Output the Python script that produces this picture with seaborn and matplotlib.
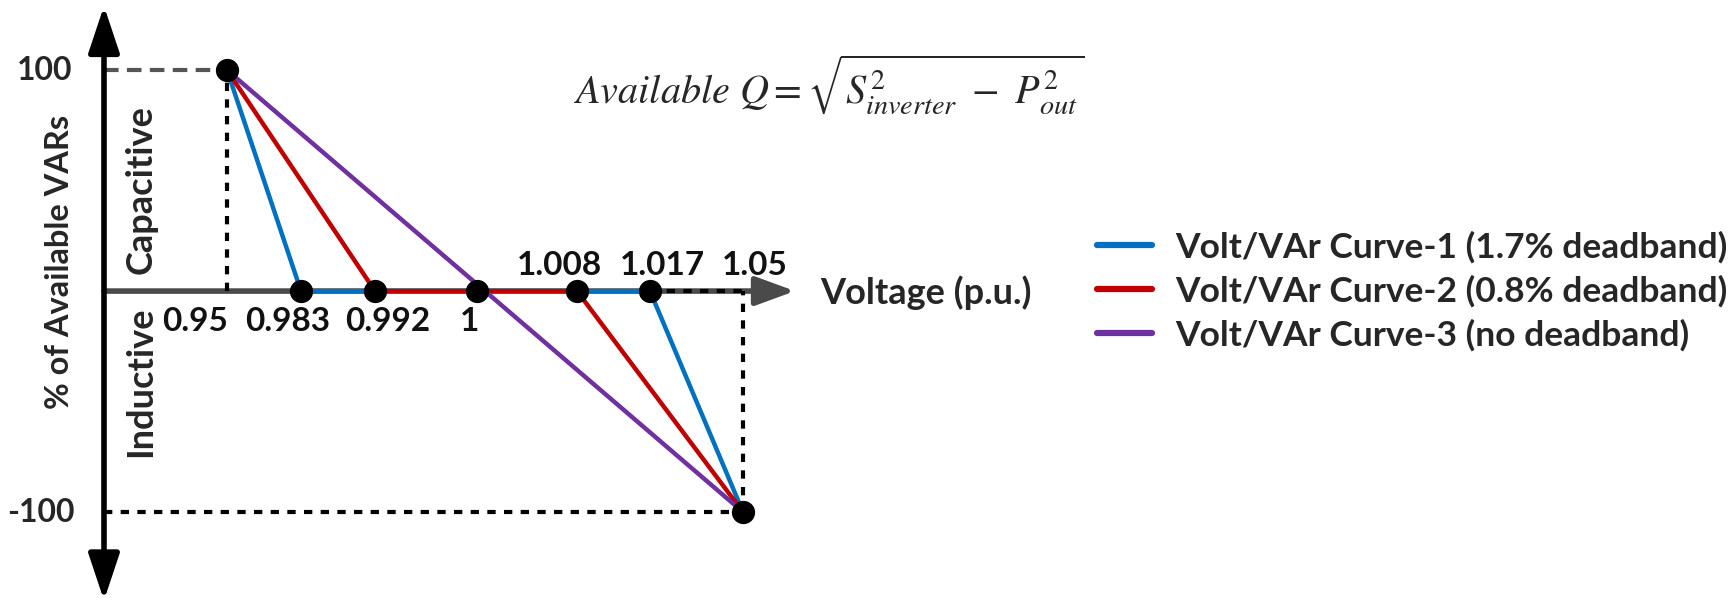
import numpy as np
import pandas as pd
import matplotlib
matplotlib.use('Agg')
import matplotlib.pyplot as plt
import seaborn as sns

# ---- data ----
volt_ticks = [0.95, 0.983, 0.992, 1.0, 1.008, 1.017, 1.05]
curve_names = ['Volt/VAr Curve-1 (1.7% deadband)',
               'Volt/VAr Curve-2 (0.8% deadband)',
               'Volt/VAr Curve-3 (no deadband)']
curve1_v = [0.95, 0.983, 1.017, 1.05]
curve1_q = [100, 0, 0, -100]
curve2_v = [0.95, 0.992, 1.008, 1.05]
curve2_q = [100, 0, 0, -100]
curve3_v = [0.95, 1.05]
curve3_q = [100, -100]
point_v = [0.95, 0.983, 0.992, 1.0, 1.008, 1.017, 1.05]
point_q = [100, 0, 0, 0, 0, 0, -100]
colors = ['#0070C0', '#C00000', '#7030A0']

# ---- schematic (non-linear) voltage axis: pixel position of each tick ----
W, H = 1733, 604
tick_px = np.array([227, 301, 375, 477, 577, 650, 743], dtype=float)
vt = np.array(volt_ticks)


def fwd(v):
    v = np.asarray(v, dtype=float)
    out = np.interp(v, vt, tick_px)
    lo_s = (tick_px[1] - tick_px[0]) / (vt[1] - vt[0])
    hi_s = (tick_px[-1] - tick_px[-2]) / (vt[-1] - vt[-2])
    out = np.where(v < vt[0], tick_px[0] + (v - vt[0]) * lo_s, out)
    out = np.where(v > vt[-1], tick_px[-1] + (v - vt[-1]) * hi_s, out)
    return out


def inv(p):
    p = np.asarray(p, dtype=float)
    out = np.interp(p, tick_px, vt)
    lo_s = (vt[1] - vt[0]) / (tick_px[1] - tick_px[0])
    hi_s = (vt[-1] - vt[-2]) / (tick_px[-1] - tick_px[-2])
    out = np.where(p < tick_px[0], vt[0] + (p - tick_px[0]) * lo_s, out)
    out = np.where(p > tick_px[-1], vt[-1] + (p - tick_px[-1]) * hi_s, out)
    return out


df = pd.concat([
    pd.DataFrame({'v': curve1_v, 'q': curve1_q, 'curve': curve_names[0]}),
    pd.DataFrame({'v': curve2_v, 'q': curve2_q, 'curve': curve_names[1]}),
    pd.DataFrame({'v': curve3_v, 'q': curve3_q, 'curve': curve_names[2]}),
], ignore_index=True)
pts = pd.DataFrame({'v': point_v, 'q': point_q})

sns.set_style('white')
plt.rcParams['font.family'] = ['Lato', 'DejaVu Sans']
plt.rcParams['mathtext.fontset'] = 'stix'

fig = plt.figure(figsize=(W / 100, H / 100), dpi=100)
ax = fig.add_axes([0, 0, 1, 1])
ax.set_xscale('function', functions=(fwd, inv))

yaxis_v = float(inv(104))
xtip_v = float(inv(795))

# axes arrows
ax.annotate('', xy=(xtip_v, 0), xytext=(yaxis_v, 0),
            arrowprops=dict(arrowstyle='-|>,head_length=0.6,head_width=0.22',
                            mutation_scale=40, color='#4a4a4a', lw=4,
                            shrinkA=0, shrinkB=0), zorder=1)
ax.annotate('', xy=(yaxis_v, 129), xytext=(yaxis_v, -140),
            arrowprops=dict(arrowstyle='<|-|>,head_length=0.75,head_width=0.25',
                            mutation_scale=38, color='black', lw=4,
                            shrinkA=0, shrinkB=0), zorder=5)

# guide lines
ax.hlines(point_q[0], yaxis_v, point_v[0], colors='#555555', lw=3,
          linestyles=(0, (3.5, 2)), zorder=2)
ax.vlines(point_v[0], 0, point_q[0], colors='black', lw=3,
          linestyles=(0, (2, 2)), zorder=2)
ax.hlines(point_q[-1], yaxis_v, point_v[-1], colors='black', lw=3,
          linestyles=(0, (2, 2)), zorder=2)
ax.vlines(point_v[-1], point_q[-1], 0, colors='black', lw=3,
          linestyles=(0, (2, 2)), zorder=2)
ax.hlines(0, volt_ticks[5], volt_ticks[6], colors='black', lw=3,
          linestyles=(0, (2, 2)), zorder=2)

sns.lineplot(data=df, x='v', y='q', hue='curve', hue_order=curve_names,
             palette=colors, sort=False, estimator=None, lw=3.2, ax=ax,
             zorder=3)
sns.scatterplot(data=pts, x='v', y='q', color='black', s=280,
                edgecolor='black', linewidth=0, ax=ax, zorder=4, legend=False)

ax.set_xlim(float(inv(0)), float(inv(W)))
ax.set_ylim(-141.6, 131.7)
ax.set_axis_off()

# tick labels (schematic placement)
lab_kw = dict(textcoords='offset pixels', fontsize=24, fontweight='bold',
              ha='center', va='center', color='#111111')
below = [(0.95, '0.95', -32), (0.983, '0.983', -13), (0.992, '0.992', 13), (1.0, '1', -7)]
above = [(1.008, '1.008', -18), (1.017, '1.017', 12), (1.05, '1.05', 12)]
for v, s, dx in below:
    ax.annotate(s, (v, 0), xytext=(dx, -30), **lab_kw)
for v, s, dx in above:
    ax.annotate(s, (v, 0), xytext=(dx, 26), **lab_kw)
ax.annotate('100', (yaxis_v, 100), xytext=(-32, 0), textcoords='offset pixels',
            fontsize=23, fontweight='bold', ha='right', va='center')
ax.annotate('-100', (yaxis_v, -100), xytext=(-29, 0), textcoords='offset pixels',
            fontsize=23, fontweight='bold', ha='right', va='center')

fig.text(60 / W, 1 - 262 / H, '% of Available VARs', rotation=90,
         fontsize=23.5, fontweight='bold', ha='center', va='center')
fig.text(141 / W, 1 - 190 / H, 'Capacitive', rotation=90,
         fontsize=26, fontweight='bold', ha='center', va='center')
fig.text(141 / W, 1 - 382 / H, 'Inductive', rotation=90,
         fontsize=26, fontweight='bold', ha='center', va='center')
fig.text(820 / W, 1 - 293 / H, 'Voltage (p.u.)', fontsize=26,
         fontweight='bold', ha='left', va='center')
fig.text(829 / W, 1 - 84 / H,
         r'$Available\ Q = \sqrt{S_{inverter}^{2}\ -\ P_{out}^{2}}$',
         fontsize=29, ha='center', va='center')

leg = ax.legend(loc='center left', bbox_to_anchor=(1097 / W, 1 - 291 / H),
                bbox_transform=fig.transFigure, frameon=False,
                borderaxespad=0, borderpad=0,
                handlelength=1.55, handletextpad=0.65, labelspacing=0.32,
                prop={'size': 25.5, 'weight': 'bold'})
for line in leg.get_lines():
    line.set_linewidth(4.5)

fig.savefig('out.png', dpi=100)
